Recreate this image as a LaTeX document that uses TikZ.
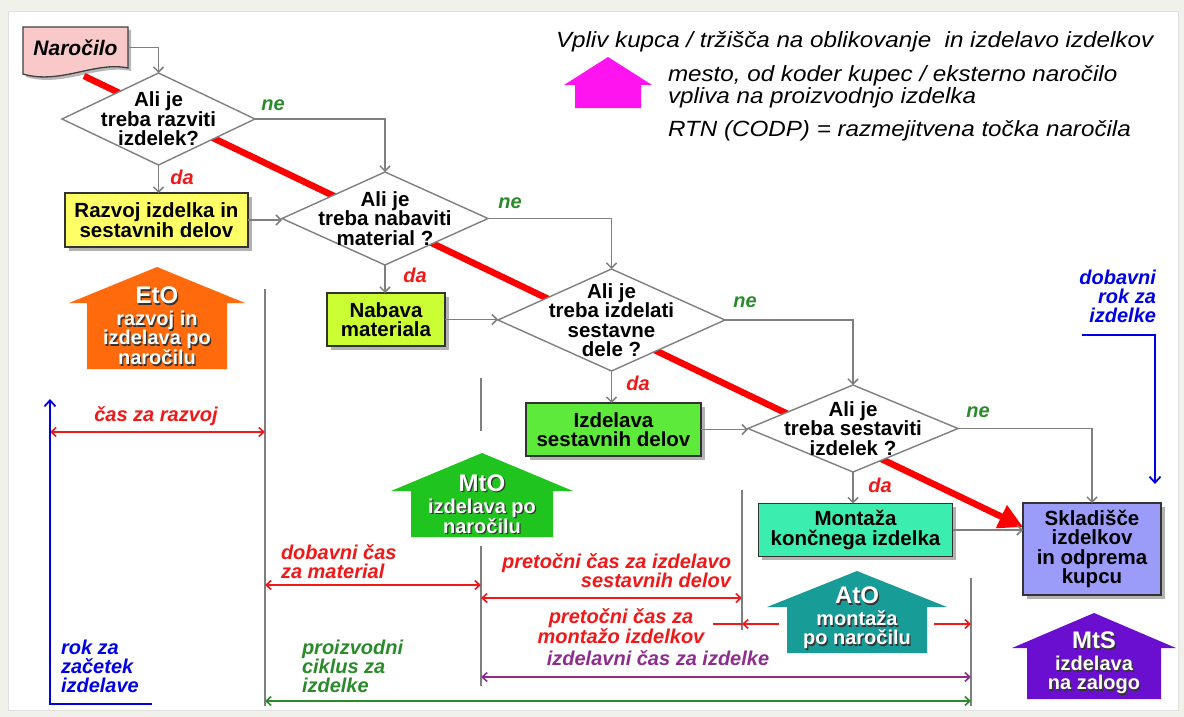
\documentclass[tikz,border=0pt]{standalone}
\usepackage{fontspec}
\setmainfont{Liberation Sans}
\newfontfamily\fcLegendFamily[FakeStretch=1.1]{Liberation Sans}
\usetikzlibrary{arrows.meta,shapes.geometric,shadows,calc,backgrounds}

% palette
\definecolor{pagebg}{HTML}{F1F1EB}
\definecolor{flowgrey}{HTML}{7F7F7F}
\definecolor{ordpink}{HTML}{F9C9C9}
\definecolor{devyellow}{HTML}{FFFF66}
\definecolor{matlime}{HTML}{CCFF33}
\definecolor{partgreen}{HTML}{5EEA3A}
\definecolor{asmmint}{HTML}{3CEDB0}
\definecolor{storelilac}{HTML}{9B9BFA}
\definecolor{etoorange}{HTML}{FF6A0D}
\definecolor{mtogreen}{HTML}{1FC41F}
\definecolor{atoteal}{HTML}{189C98}
\definecolor{mtspurple}{HTML}{6A0FD0}
\definecolor{codpmagenta}{HTML}{FF14F0}
\definecolor{codpred}{HTML}{FF0000}
\definecolor{dimred}{HTML}{F01818}
\definecolor{nogreen}{HTML}{2B8A2B}
\definecolor{mfgpurple}{HTML}{8E2D8E}
\definecolor{leadblue}{HTML}{0000E6}

% fonts
\newcommand\fcBox{\bfseries\fontsize{20.5}{19.5}\selectfont}
\newcommand\fcLabel{\bfseries\itshape\fontsize{20}{19}\selectfont}
\newcommand\fcHouse{\bfseries\fontsize{20}{19}\selectfont}
\newcommand\fcHouseTitle{\fontsize{24}{22}\selectfont}
\newcommand\fcLegend{\fcLegendFamily\itshape\fontsize{22}{22}\selectfont}

% block-arrow ("house") outline: colour, apex x, apex y, roof half width, roof y, body half width, bottom y
\newcommand\houseshape[7]{%
  \fill[#1] (#2-#6,#7) -- (#2-#6,#5) -- (#2-#4,#5) -- (#2,#3) -- (#2+#4,#5)
    -- (#2+#6,#5) -- (#2+#6,#7) -- cycle;}
% white caption with a dark drop shadow
\newcommand\housetext[3]{%
  \node[housecaption,text=black!80] (#1-shadow) at ($(#2)+(1.3,1.3)$) {#3};
  \node[housecaption,text=white] (#1) at (#2) {#3};}

\begin{document}
\begin{tikzpicture}[x=1pt,y=-1pt,
  every node/.style={inner sep=0pt,outer sep=0pt},
  procbox/.style={draw=black!80,line width=1.3pt,align=center,font=\fcBox,
    drop shadow={shadow xshift=3.5pt,shadow yshift=-3.5pt,fill=black!55,opacity=.55}},
  decisionshape/.style={diamond,draw=flowgrey,line width=1.4pt,fill=white},
  decisiontext/.style={align=center,font=\fcBox},
  flowarrow/.style={draw=flowgrey,line width=1.5pt,-{Straight Barb[length=5pt,width=10pt]}},
  yeslabel/.style={font=\fcLabel,text=dimred},
  nolabel/.style={font=\fcLabel,text=nogreen},
  phaseline/.style={draw=flowgrey,line width=1.5pt},
  timespan/.style={line width=1.6pt,{Straight Barb[length=5pt,width=9pt]}-{Straight Barb[length=5pt,width=9pt]}},
  spanlabel/.style={font=\fcLabel},
  leadline/.style={draw=leadblue,line width=1.8pt},
  housecaption/.style={align=center,font=\fcHouse},
  legendtext/.style={font=\fcLegend,anchor=west,align=left},
]
\useasboundingbox (0,0) rectangle (1184,717);

% page and panel
\begin{scope}[on background layer]
  \fill[pagebg] (0,0) rectangle (1184,717);
  \fill[white,draw=black!12,line width=1pt] (8,12) rectangle (1178,710);
\end{scope}

% ---------- order document ----------
\filldraw[fill=ordpink,draw=black!75,line width=1.3pt,
  drop shadow={shadow xshift=3pt,shadow yshift=-3pt,fill=black!55,opacity=.5}]
  (23,27) -- (128,27) -- (128,68) .. controls (95,61) and (60,85) .. (23,74) -- cycle;
\node[minimum width=105pt,minimum height=41pt,font=\bfseries\itshape\fontsize{21}{21}\selectfont]
  (order) at (75.5,47.5) {Naročilo};
\coordinate (codp-start) at (84,76);

% ---------- decisions ----------
\node[decisionshape,minimum width=193pt,minimum height=92pt] (d1) at (158.5,119) {};
\node[decisiontext] (d1-text) at (d1) {Ali je\\treba razviti\\izdelek?};
\node[decisionshape,minimum width=206pt,minimum height=93pt] (d2) at (385,218.5) {};
\node[decisiontext] (d2-text) at (d2) {Ali je\\treba nabaviti\\material ?};
\node[decisionshape,minimum width=227pt,minimum height=102pt] (d3) at (611.5,320) {};
\node[decisiontext] (d3-text) at (d3) {Ali je\\treba izdelati\\sestavne\\dele ?};
\node[decisionshape,minimum width=210pt,minimum height=87pt] (d4) at (853,428.5) {};
\node[decisiontext] (d4-text) at (d4) {Ali je\\treba sestaviti\\izdelek ?};

% ---------- process boxes ----------
\node[procbox,fill=devyellow,minimum width=183pt,minimum height=54pt] (develop) at (156.5,220)
  {Razvoj izdelka in\\sestavnih delov};
\node[procbox,fill=matlime,minimum width=118pt,minimum height=53pt] (purchase) at (386,319.5)
  {Nabava\\materiala};
\node[procbox,fill=partgreen,minimum width=175pt,minimum height=53pt] (parts) at (613.5,429.5)
  {Izdelava\\sestavnih delov};
\node[procbox,fill=asmmint,minimum width=194pt,minimum height=53pt] (assembly) at (855.5,530)
  {Montaža\\končnega izdelka};
\node[procbox,fill=storelilac,minimum width=138pt,minimum height=92pt] (store) at (1092,549)
  {Skladišče\\izdelkov\\in odprema\\kupcu};

% ---------- customer order decoupling line ----------
\begin{scope}[on background layer]
  \draw[codpred,line width=6.5pt,-{Triangle[length=24pt,width=24pt]}]
    (codp-start) -- ($(store.west)+(0,-22)$);
\end{scope}

% ---------- flow ----------
\draw[flowarrow] (order.east) -| (d1.north);
\draw[flowarrow] (d1.south) -- (d1.south |- develop.north);
\draw[flowarrow] (d1.east) -| (d2.north);
\draw[flowarrow] (develop.east) -- (develop.east -| d2.west);
\draw[flowarrow] (d2.south) -- (d2.south |- purchase.north);
\draw[flowarrow] (d2.east) -| (d3.north);
\draw[flowarrow] (purchase.east) -- (purchase.east -| d3.west);
\draw[flowarrow] (d3.south) -- (d3.south |- parts.north);
\draw[flowarrow] (d3.east) -| (d4.north);
\draw[flowarrow] (parts.east) -- (parts.east -| d4.west);
\draw[flowarrow] (d4.south) -- (d4.south |- assembly.north);
\draw[flowarrow] (d4.east) -| (store.north);
\draw[flowarrow] (assembly.east) -- (assembly.east -| store.west);

\node[nolabel] (ne1) at (273,105) {ne};
\node[yeslabel] (da1) at (182,177) {da};
\node[nolabel] (ne2) at (510,203) {ne};
\node[yeslabel] (da2) at (415,275) {da};
\node[nolabel] (ne3) at (745,302) {ne};
\node[yeslabel] (da3) at (638,383) {da};
\node[nolabel] (ne4) at (978,412) {ne};
\node[yeslabel] (da4) at (880,485) {da};

% ---------- phase boundaries ----------
\coordinate (s1t) at (265,289);   \coordinate (s1b) at (265,706);
\coordinate (s2a) at (481,378);   \coordinate (s2b) at (481,431);
\coordinate (s2c) at (481,546);   \coordinate (s2d) at (481,686);
\coordinate (s3t) at (742,490);   \coordinate (s3b) at (742,630);
\coordinate (s4t) at (971,578);   \coordinate (s4b) at (971,706);
\draw[phaseline] (s1t) -- (s1b);
\draw[phaseline] (s2a) -- (s2b);
\draw[phaseline] (s2c) -- (s2d);
\draw[phaseline] (s3t) -- (s3b);
\draw[phaseline] (s4t) -- (s4b);

% ---------- time spans ----------
\coordinate (rz) at (50,432);
\draw[timespan,dimred] (rz) -- (rz -| s1t);
\node[spanlabel,text=dimred] (rz-label) at (156,416) {čas za razvoj};

\coordinate (mat) at (265,585);
\draw[timespan,dimred] (mat) -- (mat -| s2c);
\node[spanlabel,text=dimred,align=left,anchor=west] (mat-label) at (281,562)
  {dobavni čas\\za material};

\coordinate (prt) at (481,598);
\draw[timespan,dimred] (prt) -- (prt -| s3t);
\node[spanlabel,text=dimred,align=right,anchor=east] (prt-label) at (731,571)
  {pretočni čas za izdelavo\\sestavnih delov};

\coordinate (asm-stub) at (713,624);
\coordinate (asm-l) at (779,624);
\coordinate (asm-r) at (934,624);
\draw[dimred,line width=1.6pt] (asm-stub) -- (asm-stub -| s3t);
\draw[dimred,line width=1.6pt,-{Straight Barb[length=5pt,width=9pt]}] (asm-l) -- (asm-l -| s3t);
\draw[dimred,line width=1.6pt,-{Straight Barb[length=5pt,width=9pt]}] (asm-r) -- (asm-r -| s4t);
\node[spanlabel,text=dimred,align=center] (asm-label) at (621,626)
  {pretočni čas za\\montažo izdelkov};

\coordinate (mfg) at (481,677);
\draw[timespan,mfgpurple] (mfg) -- (mfg -| s4t);
\node[spanlabel,text=mfgpurple] (mfg-label) at (658,658) {izdelavni čas za izdelke};

\coordinate (cyc) at (265,701);
\draw[timespan,nogreen] (cyc) -- (cyc -| s4t);
\node[spanlabel,text=nogreen,align=left,anchor=west] (cyc-label) at (302,666)
  {proizvodni\\ciklus za\\izdelke};

% ---------- lead times ----------
\coordinate (start-foot) at (152,704);
\coordinate (start-top) at (50,399);
\draw[leadline,-{Straight Barb[length=6pt,width=11pt]}] (start-foot) -| (start-top);
\node[spanlabel,text=leadblue,align=left,anchor=west] (start-label) at (61,666)
  {rok za\\začetek\\izdelave};

\coordinate (due-head) at (1082,335);
\coordinate (due-tip) at (1155,484);
\draw[leadline,-{Straight Barb[length=6pt,width=11pt]}] (due-head) -| (due-tip);
\node[spanlabel,text=leadblue,align=right,anchor=east] (due-label) at (1156,296)
  {dobavni\\rok za\\izdelke};

% ---------- order penetration points ----------
\houseshape{etoorange}{157}{267}{88}{303}{70}{369}
\housetext{eto}{157,326}{{\fcHouseTitle EtO}\\[3pt]razvoj in\\izdelava po\\naročilu}

\houseshape{mtogreen}{482}{453}{91}{491}{71}{537}
\housetext{mto}{482,504}{{\fcHouseTitle MtO}\\[3pt]izdelava po\\naročilu}

\houseshape{atoteal}{857}{571}{90}{607}{70}{653}
\housetext{ato}{857,618}{{\fcHouseTitle AtO}\\[3pt]montaža\\po naročilu}

\houseshape{mtspurple}{1094}{613}{82}{648}{67}{699}
\housetext{mts}{1094,663}{{\fcHouseTitle MtS}\\[3pt]izdelava\\na zalogo}

% ---------- legend ----------
\houseshape{codpmagenta}{608}{57}{44}{85}{33}{108}
\node[legendtext] (legend-title) at (556,42)
  {Vpliv kupca / tržišča na oblikovanje\ \ in izdelavo izdelkov};
\node[legendtext] (legend-mark) at (668,87)
  {mesto, od koder kupec / eksterno naročilo\\vpliva na proizvodnjo izdelka};
\node[legendtext] (legend-rtn) at (668,131)
  {RTN (CODP) = razmejitvena točka naročila};
\end{tikzpicture}
\end{document}
